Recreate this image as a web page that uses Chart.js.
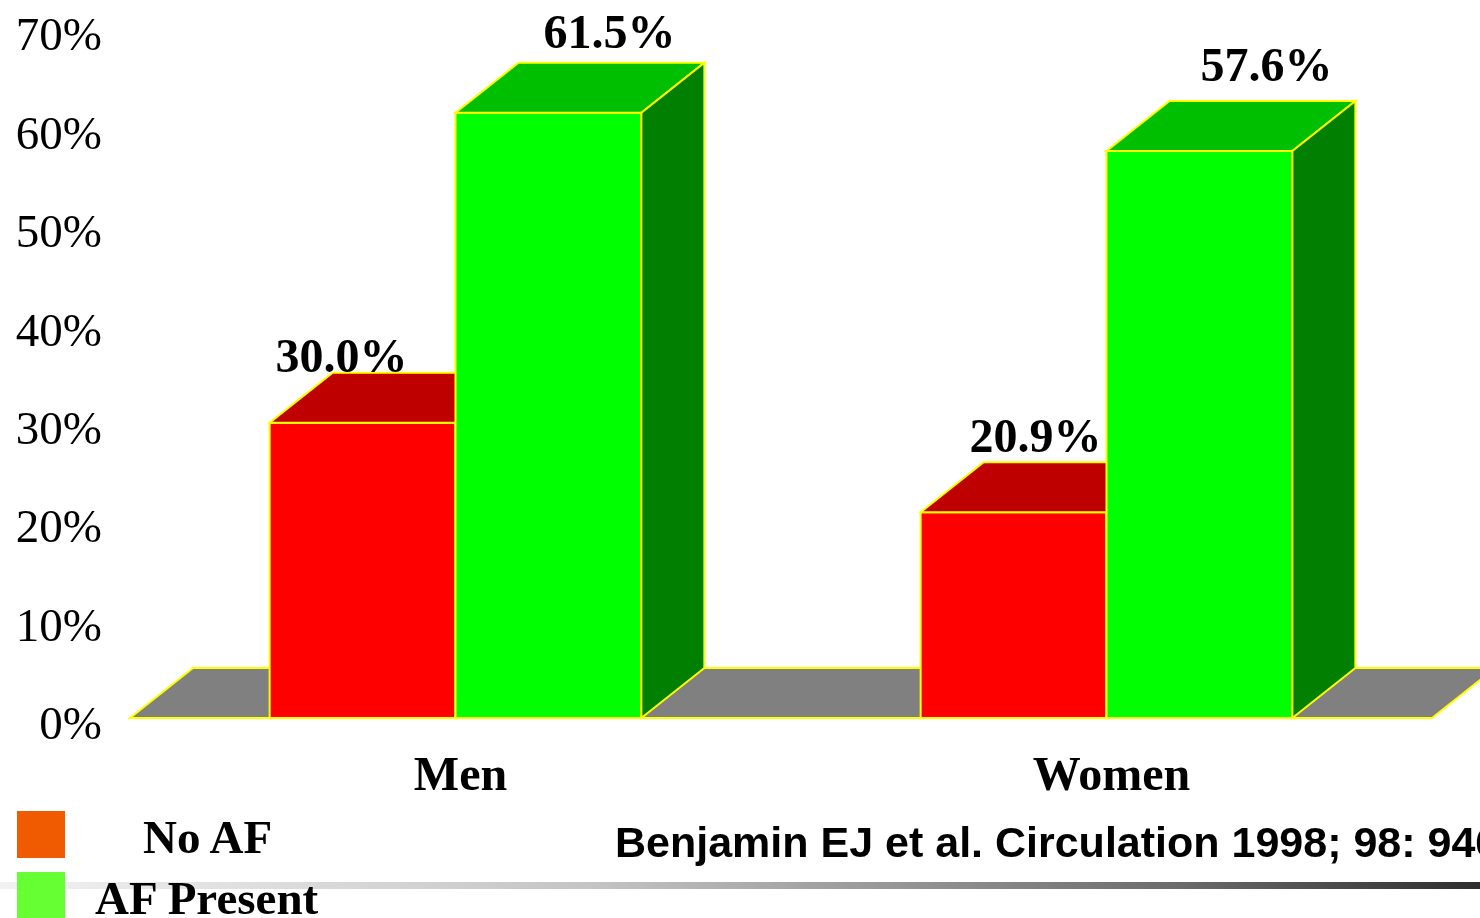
<!DOCTYPE html>
<html>
<head>
<meta charset="utf-8">
<script src="https://cdn.jsdelivr.net/npm/chart.js@4.4.1/dist/chart.umd.min.js"></script>
<style>
    html, body { margin: 0; padding: 0; background: #fff; }
    #wrap { position: relative; width: 1480px; height: 918px; overflow: hidden; }
    #chart-box { position: absolute; left: 0; top: 0; width: 1480px; height: 918px; }
    .rule { position: absolute; left: 0; top: 882px; width: 1480px; height: 7px;
        background: linear-gradient(to right, #f2f2f2 0%, #c4c4c4 40%, #6a6a6a 80%, #2e2e2e 100%); }
    .swatch { position: absolute; left: 17px; width: 48px; height: 47px; }
    .leg { position: absolute; font-family: 'Liberation Serif', serif; font-weight: bold; font-size: 47px; line-height: 1; white-space: nowrap; }
    .cite { position: absolute; left: 615px; top: 821px; font-family: 'Liberation Sans', Arial, sans-serif; font-weight: bold;
        font-size: 43px; line-height: 1; white-space: nowrap; }
</style>
</head>
<body>
<div id="wrap">
    <div class="rule"></div>
    <div id="chart-box"><canvas id="afChart"></canvas></div>
    <div class="swatch" style="top:811px;background:#f05a00"></div>
    <div class="swatch" style="top:872px;background:#66ff33"></div>
    <div class="leg" style="left:143px;top:814px">No AF</div>
    <div class="leg" style="left:95px;top:875px">AF Present</div>
    <div class="cite">Benjamin EJ et al. Circulation 1998; 98: 946</div>
</div>
<script>
// Dados
const categories = ['Men', 'Women'];
const seriesNames = ['No AF', 'AF Present'];
const noAF = [30.0, 20.9];
const afPresent = [61.5, 57.6];
const yTicks = [0, 10, 20, 30, 40, 50, 60, 70];

// profundidade do efeito 3D
const DX = 63, DY = -50;
const EDGE = '#ffff00';

// cores: frente, topo, lateral
const faceColors = [
    { front: '#ff0000', top: '#bf0000', side: '#800000' },
    { front: '#00ff00', top: '#00bf00', side: '#007f00' }
];

// ajuste fino da posição dos rótulos (dx, dy acima da aresta traseira)
const labelNudge = [
    [[-21, 1], [22, 10]],
    [[61, 15], [67, 20]]
];

function poly(ctx, pts, fill) {
    ctx.beginPath();
    ctx.moveTo(pts[0][0], pts[0][1]);
    for (let i = 1; i < pts.length; i++) ctx.lineTo(pts[i][0], pts[i][1]);
    ctx.closePath();
    ctx.fillStyle = fill;
    ctx.fill();
    ctx.lineWidth = 2;
    ctx.strokeStyle = EDGE;
    ctx.stroke();
}

const box3d = {
    id: 'box3d',
    beforeDatasetsDraw(chart) {
        // piso cinza
        const { ctx, chartArea: a } = chart;
        ctx.save();
        poly(ctx, [[a.left, a.bottom], [a.right, a.bottom], [a.right + DX, a.bottom + DY], [a.left + DX, a.bottom + DY]], '#808080');
        ctx.restore();
    },
    afterDatasetsDraw(chart) {
        // caixas 3D na ordem das séries (vermelho atrás do verde)
        const { ctx } = chart;
        ctx.save();
        chart.data.datasets.forEach((ds, di) => {
            const c = faceColors[di];
            chart.getDatasetMeta(di).data.forEach(bar => {
                const p = bar.getProps(['x', 'y', 'base', 'width'], true);
                const l = p.x - p.width / 2, r = p.x + p.width / 2;
                poly(ctx, [[l, p.y], [r, p.y], [r, p.base], [l, p.base]], c.front);
                poly(ctx, [[l, p.y], [r, p.y], [r + DX, p.y + DY], [l + DX, p.y + DY]], c.top);
                poly(ctx, [[r, p.y], [r + DX, p.y + DY], [r + DX, p.base + DY], [r, p.base]], c.side);
            });
        });
        ctx.restore();
    },
    afterDraw(chart) {
        const { ctx } = chart;
        ctx.save();
        ctx.font = "bold 48px 'Liberation Serif', serif";
        ctx.fillStyle = '#000';
        ctx.textAlign = 'center';
        ctx.textBaseline = 'alphabetic';
        chart.data.datasets.forEach((ds, di) => {
            chart.getDatasetMeta(di).data.forEach((bar, i) => {
                const n = labelNudge[di][i];
                ctx.fillText(ds.data[i].toFixed(1) + '%', bar.x + n[0], bar.y + DY - n[1]);
            });
        });
        ctx.restore();
    }
};

new Chart(document.getElementById('afChart'), {
    type: 'bar',
    data: {
        labels: categories,
        datasets: [
            { label: seriesNames[0], data: noAF, backgroundColor: faceColors[0].front, borderColor: EDGE, borderWidth: 2 },
            { label: seriesNames[1], data: afPresent, backgroundColor: faceColors[1].front, borderColor: EDGE, borderWidth: 2 }
        ]
    },
    options: {
        responsive: true,
        maintainAspectRatio: false,
        animation: false,
        layout: { padding: { left: 0, right: 48, top: 29, bottom: 0 } },
        datasets: { bar: { categoryPercentage: 0.571, barPercentage: 1 } },
        plugins: { legend: { display: false }, tooltip: { enabled: false } },
        scales: {
            x: {
                grid: { display: false, drawTicks: false },
                border: { display: false },
                ticks: { color: '#000', padding: 31, labelOffset: 5, font: { family: "'Liberation Serif', serif", size: 48, weight: 'bold' } },
                afterFit(scale) { scale.height = 200; scale.paddingLeft = 0; scale.paddingRight = 0; }
            },
            y: {
                min: 0, max: 70,
                grid: { display: false, drawTicks: false },
                border: { display: false },
                afterBuildTicks(scale) { scale.ticks = yTicks.map(v => ({ value: v })); },
                ticks: {
                    color: '#000', padding: 28, labelOffset: 9,
                    font: { family: "'Liberation Serif', serif", size: 47 },
                    callback: v => v + '%'
                },
                afterFit(scale) { scale.width = 130; scale.paddingTop = 0; scale.paddingBottom = 0; }
            }
        }
    },
    plugins: [box3d]
});
</script>
</body>
</html>
